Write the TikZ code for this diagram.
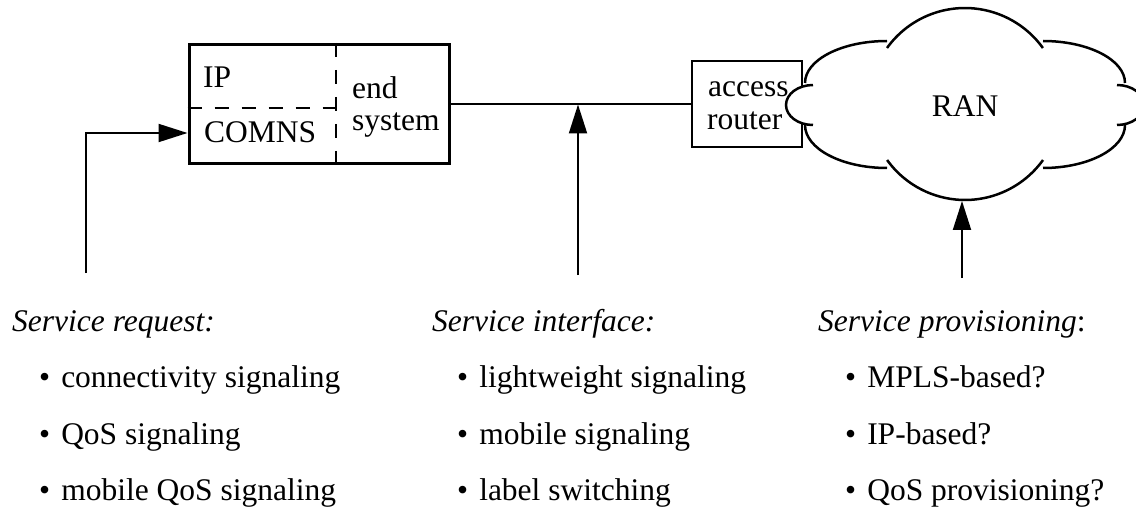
\documentclass[tikz,border=0pt]{standalone}
\usepackage{fontspec}
\setmainfont{Liberation Serif}
\usetikzlibrary{arrows.meta}
\begin{document}
\begin{tikzpicture}[x=1pt,y=1pt,
  every node/.style={font=\fontsize{31.5}{33}\selectfont},
  txt/.style={inner sep=0pt, anchor=base west},
  box/.style={draw, line width=3pt, inner sep=0pt},
  link/.style={line width=2pt},
  tip/.style={-{Triangle[length=29pt,width=18pt]}},
  sep/.style={line width=1.5pt, dash pattern=on 14pt off 13pt},
  lobe/.style={line width=2.5pt}]
\useasboundingbox (0,0) rectangle (1136,507);

% end system with its protocol layers
\node[box, minimum width=260pt, minimum height=119pt] (es) at (319,402.5) {};
\draw[sep] (336,464) -- (336,343);
\draw[sep] (es.west |- 0,399) -- (336,399);
\node[txt] (ip) at (203,419) {IP};
\node[txt] (comns) at (204,364) {COMNS};
\node[txt] (end) at (352,408) {end};
\node[txt] (sys) at (352,376) {system};

% access router
\node[box, line width=2.5pt, minimum width=110pt, minimum height=86pt] (ar) at (747,403) {};
\node[txt] (acc) at (708,410) {access};
\node[txt] (rtr) at (707,377) {router};

% radio access network cloud
\fill[white] (805,424) arc[start angle=180,end angle=90,x radius=82pt,y radius=42pt]
  -- (887,459) arc[start angle=144.3,end angle=35.7,radius=96pt]
  -- (1043,466) arc[start angle=90,end angle=0,x radius=82pt,y radius=42pt]
  -- (1117,422) arc[start angle=90,end angle=-90,x radius=27pt,y radius=20pt]
  -- (1125,382) arc[start angle=0,end angle=-90,x radius=82pt,y radius=43pt]
  -- (1043,347) arc[start angle=-35.7,end angle=-144.3,radius=96pt]
  -- (887,339) arc[start angle=270,end angle=180,x radius=82pt,y radius=43pt]
  -- (813,382) arc[start angle=270,end angle=90,x radius=27pt,y radius=20pt]
  -- cycle;
\draw[lobe] (805,424) arc[start angle=180,end angle=90,x radius=82pt,y radius=42pt];
\draw[lobe] (887,459) arc[start angle=144.3,end angle=35.7,radius=96pt];
\draw[lobe] (1043,466) arc[start angle=90,end angle=0,x radius=82pt,y radius=42pt];
\draw[lobe] (1117,422) arc[start angle=90,end angle=-90,x radius=27pt,y radius=20pt];
\draw[lobe] (1125,382) arc[start angle=0,end angle=-90,x radius=82pt,y radius=43pt];
\draw[lobe] (1043,347) arc[start angle=-35.7,end angle=-144.3,radius=96pt];
\draw[lobe] (887,339) arc[start angle=270,end angle=180,x radius=82pt,y radius=43pt];
\draw[lobe] (813,382) arc[start angle=270,end angle=90,x radius=27pt,y radius=20pt];
\node[txt, anchor=base] (ran) at (965,390) {RAN};
\coordinate (ranfoot) at (962,306);

% link between end system and router
\draw[link] (es.east) -- (es.east -| ar.west);

% service request
\coordinate (reqfoot) at (86,234);
\draw[link,tip] (reqfoot) |- ([yshift=-28.5pt]es.west);
\node[txt] (reqhead) at (12,176) {\textit{Service request:}};
\node[txt] (req1) at (39,120) {\textbullet\hspace{0.35em}connectivity signaling};
\node[txt] (req2) at (39,63) {\textbullet\hspace{0.35em}QoS signaling};
\node[txt] (req3) at (39,7) {\textbullet\hspace{0.35em}mobile QoS signaling};

% service interface
\coordinate (iffoot) at (578,232);
\draw[link,tip] (iffoot) -- (iffoot |- es.east);
\node[txt] (ifhead) at (432,176) {\textit{Service interface:}};
\node[txt] (if1) at (457,120) {\textbullet\hspace{0.35em}lightweight signaling};
\node[txt] (if2) at (457,63) {\textbullet\hspace{0.35em}mobile signaling};
\node[txt] (if3) at (457,7) {\textbullet\hspace{0.35em}label switching};

% service provisioning
\coordinate (provfoot) at (962,229);
\draw[link,tip] (provfoot) -- (ranfoot);
\node[txt] (provhead) at (818,176) {\textit{Service provisioning}:};
\node[txt] (prov1) at (845,120) {\textbullet\hspace{0.35em}MPLS-based?};
\node[txt] (prov2) at (845,63) {\textbullet\hspace{0.35em}IP-based?};
\node[txt] (prov3) at (845,7) {\textbullet\hspace{0.35em}QoS provisioning?};
\end{tikzpicture}
\end{document}
